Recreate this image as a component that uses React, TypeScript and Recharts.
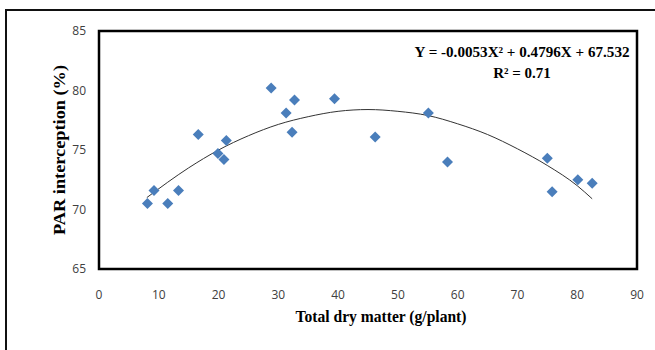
import {
  ComposedChart,
  Line,
  ReferenceArea,
  Scatter,
  XAxis,
  YAxis,
} from "recharts";

// observed points
const dryMatter = [
  8.1, 9.2, 11.5, 13.3, 16.6, 19.9, 20.9, 21.3, 28.8, 31.3, 32.3, 32.7, 39.4,
  46.2, 55.1, 58.3, 75.0, 75.8, 80.1, 82.5,
];
const parInterception = [
  70.5, 71.6, 70.5, 71.6, 76.3, 74.7, 74.2, 75.8, 80.2, 78.1, 76.5, 79.2, 79.3,
  76.1, 78.1, 74.0, 74.3, 71.5, 72.5, 72.2,
];

// trend line
const trendX = [8, 15, 20, 25, 30, 35, 40, 45, 50, 55, 60, 65, 70, 75, 80, 82.5];
const trendY = [
  71.0, 73.5, 75.0, 76.2, 77.15, 77.8, 78.25, 78.4, 78.25, 77.9, 77.2, 76.3,
  75.1, 73.7, 72.0, 70.9,
];

const xTicks = [0, 10, 20, 30, 40, 50, 60, 70, 80, 90];
const yTicks = [65, 70, 75, 80, 85];

const points = dryMatter.map((x, i) => ({ x, y: parInterception[i] }));
const trend = trendX.map((x, i) => ({ x, y: trendY[i] }));

const serif = "'Liberation Serif', 'Times New Roman', serif";
const tickFont = {
  fontFamily: "'Open Sans', sans-serif",
  fontSize: 12,
  fill: "#404040",
};

const Diamond = (props: any) => {
  const { cx, cy } = props;
  const r = 5.5;
  return (
    <polygon
      points={`${cx},${cy - r} ${cx + r},${cy} ${cx},${cy + r} ${cx - r},${cy}`}
      fill="#4a7ebb"
    />
  );
};

const XTitle = () => (
  <text
    x={381}
    y={322}
    textAnchor="middle"
    fontFamily={serif}
    fontWeight="bold"
    fontSize={16}
    textLength={171}
    lengthAdjust="spacingAndGlyphs"
    fill="#000"
  >
    Total dry matter (g/plant)
  </text>
);

const YTitle = () => (
  <text
    transform="translate(65,150) rotate(-90)"
    textAnchor="middle"
    fontFamily={serif}
    fontWeight="bold"
    fontSize={16}
    textLength={170}
    lengthAdjust="spacingAndGlyphs"
    fill="#000"
  >
    PAR interception (%)
  </text>
);

export default function App() {
  return (
    <div
      style={{
        position: "absolute",
        left: 0,
        top: 0,
        width: 655,
        height: 350,
        overflow: "hidden",
        background: "#fff",
      }}
    >
      <div
        style={{
          position: "absolute",
          left: 5,
          top: 9,
          width: 700,
          height: 400,
          border: "2px solid #111",
        }}
      />
      <ComposedChart
        width={655}
        height={350}
        margin={{ top: 31, right: 18, bottom: 31, left: 0 }}
        style={{ position: "absolute", left: 0, top: 0 }}
      >
        <XAxis
          type="number"
          dataKey="x"
          domain={[0, 90]}
          ticks={xTicks}
          height={50}
          axisLine={false}
          tickLine={false}
          tickSize={6}
          tickMargin={15}
          tick={tickFont}
          label={<XTitle />}
        />
        <YAxis
          type="number"
          dataKey="y"
          domain={[65, 85]}
          ticks={yTicks}
          width={99}
          axisLine={false}
          tickLine={false}
          tickSize={6}
          tickMargin={7}
          tick={tickFont}
          label={<YTitle />}
        />
        <Line
          data={trend}
          dataKey="y"
          type="monotone"
          stroke="#333"
          strokeWidth={1}
          dot={false}
          activeDot={false}
          isAnimationActive={false}
        />
        <Scatter
          data={points}
          dataKey="y"
          shape={<Diamond />}
          isAnimationActive={false}
        />
        <ReferenceArea
          x1={0}
          x2={90}
          y1={65}
          y2={85}
          fill="none"
          fillOpacity={0}
          stroke="#000"
          strokeWidth={2.5}
          ifOverflow="visible"
        />
        <ReferenceArea
          x1={0}
          x2={90}
          y1={65}
          y2={85}
          fillOpacity={0}
          strokeOpacity={0}
          ifOverflow="visible"
          label={(props: any) => (
            <g fontFamily={serif} fontWeight="bold" fill="#000">
              <text
                x={522}
                y={57}
                textAnchor="middle"
                fontSize={15}
                textLength={215}
                lengthAdjust="spacingAndGlyphs"
              >
                Y = -0.0053X² + 0.4796X + 67.532
              </text>
              <text x={522} y={78} textAnchor="middle" fontSize={15}>
                R² = 0.71
              </text>
            </g>
          )}
        />
      </ComposedChart>
    </div>
  );
}
